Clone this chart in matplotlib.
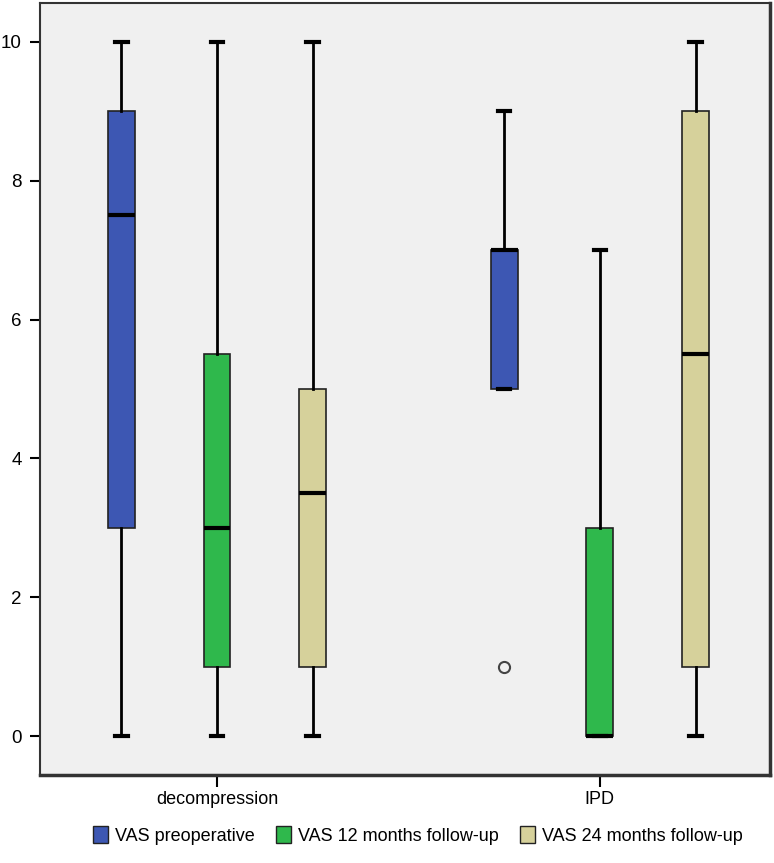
import matplotlib.pyplot as plt
from matplotlib.patches import Patch

groups = ["decompression", "IPD"]
series = ["VAS preoperative", "VAS 12 months follow-up", "VAS 24 months follow-up"]
colors = ["#3d57b3", "#2fb84c", "#d6d19b"]

# box stats per group, per series: (whislo, q1, med, q3, whishi, outliers)
stats = {
    "decompression": [
        (0, 3, 7.5, 9, 10, []),
        (0, 1, 3, 5.5, 10, []),
        (0, 1, 3.5, 5, 10, []),
    ],
    "IPD": [
        (5, 5, 7, 7, 9, [1]),
        (0, 0, 0, 3, 7, []),
        (0, 1, 5.5, 9, 10, []),
    ],
}

plt.rcParams['font.family'] = ['Liberation Sans', 'DejaVu Sans']

fig = plt.figure(figsize=(7.74, 8.63), dpi=100)
ax = fig.add_axes([0.0517, 0.102, 0.943, 0.8945])
ax.set_facecolor("#f0f0f0")

offsets = [-0.25, 0, 0.25]
for gi, g in enumerate(groups):
    for si, s in enumerate(stats[g]):
        lo, q1, med, q3, hi, fl = s
        d = [dict(whislo=lo, q1=q1, med=med, q3=q3, whishi=hi, fliers=fl)]
        pos = gi + 1 + offsets[si]
        ax.bxp(d, positions=[pos], widths=0.07, patch_artist=True,
               boxprops=dict(facecolor=colors[si], edgecolor="#222222", linewidth=1.2),
               medianprops=dict(color="black", linewidth=3),
               whiskerprops=dict(color="black", linewidth=2),
               capprops=dict(color="black", linewidth=3),
               capwidths=0.033,
               flierprops=dict(marker="o", markersize=8, markerfacecolor="none",
                               markeredgecolor="#444444", markeredgewidth=1.5),
               manage_ticks=False)

ax.set_xlim(0.538, 2.444)
ax.set_ylim(-0.56, 10.56)
ax.set_yticks([0, 2, 4, 6, 8, 10])
ax.set_xticks([1, 2])
ax.set_xticklabels(groups)
ax.tick_params(axis="y", length=7.2, width=1.5, labelsize=13.5, pad=6)
ax.tick_params(axis="x", length=8.6, width=1.5, labelsize=13, pad=3)
for sp in ax.spines.values():
    sp.set_color("#333333")
    sp.set_linewidth(1.5)
ax.spines["bottom"].set_linewidth(2.5)
ax.spines["right"].set_linewidth(2.5)

handles = [Patch(facecolor=c, edgecolor="#222222", label=l) for c, l in zip(colors, series)]
fig.legend(handles=handles, loc="center", bbox_to_anchor=(0.54, 0.032), ncol=3,
           frameon=False, fontsize=13, handlelength=0.8, handleheight=1.1,
           handletextpad=0.4, columnspacing=1.2)

fig.savefig("out.png", dpi=100)
